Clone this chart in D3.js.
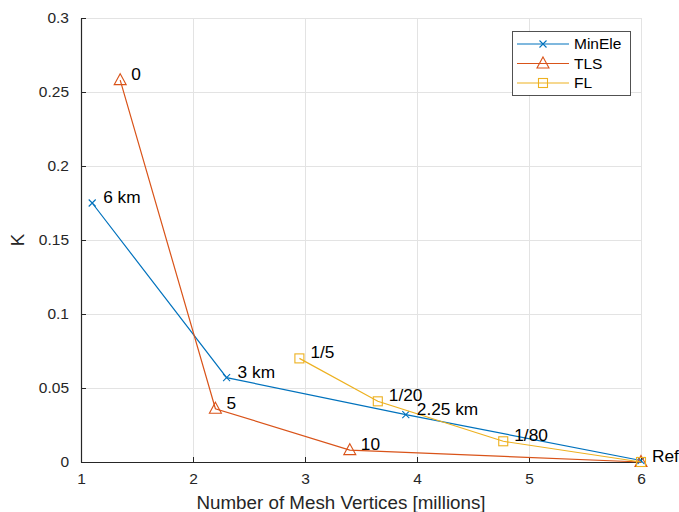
<!DOCTYPE html>
<html>
<head>
<meta charset="utf-8">
<script src="https://cdn.jsdelivr.net/npm/d3@7"></script>
<style>
  body { margin: 0; background: #fff; }
  svg { font-family: "Liberation Sans", Arial, sans-serif; }
</style>
</head>
<body>
<svg id="chart" width="679" height="512"></svg>
<script>
// Series: mesh vertex count (millions) vs. K, with a text label per point
const seriesNames = ["MinEle", "TLS", "FL"];
const minEleX = [1.1, 2.3, 3.9, 6.0];
const minEleY = [0.175, 0.057, 0.032, 0.001];
const minEleLabels = ["6 km", "3 km", "2.25 km", ""];
const tlsX = [1.35, 2.2, 3.4, 6.0];
const tlsY = [0.258, 0.036, 0.008, 0.0];
const tlsLabels = ["0", "5", "10", "Ref"];
const flX = [2.95, 3.65, 4.77, 6.0];
const flY = [0.070, 0.041, 0.014, 0.0];
const flLabels = ["1/5", "1/20", "1/80", ""];
const xTicks = [1, 2, 3, 4, 5, 6];
const yTicks = [0, 0.05, 0.1, 0.15, 0.2, 0.25, 0.3];

const colors = ["#0072BD", "#D95319", "#EDB120"];
const markers = ["cross", "triangle", "square"];

const series = [
  { name: seriesNames[0], xs: minEleX, ys: minEleY, labels: minEleLabels },
  { name: seriesNames[1], xs: tlsX, ys: tlsY, labels: tlsLabels },
  { name: seriesNames[2], xs: flX, ys: flY, labels: flLabels }
].map((s, i) => ({ ...s, color: colors[i], marker: markers[i],
  points: s.xs.map((x, j) => ({ x, y: s.ys[j], label: s.labels[j] })) }));

const svg = d3.select("#chart");
const plotL = 81, plotR = 641, plotT = 18, plotB = 462;
const x = d3.scaleLinear().domain([1, 6]).range([plotL, plotR]);
const y = d3.scaleLinear().domain([0, 0.3]).range([plotB, plotT]);
const axisColor = "#262626";

// grid
const grid = svg.append("g");
grid.selectAll("line.gx").data(xTicks).join("line")
  .attr("x1", d => x(d)).attr("x2", d => x(d)).attr("y1", plotT).attr("y2", plotB)
  .attr("stroke", "#e3e3e3").attr("stroke-width", 1).attr("shape-rendering", "crispEdges");
grid.selectAll("line.gy").data(yTicks).join("line")
  .attr("x1", plotL).attr("x2", plotR).attr("y1", d => y(d)).attr("y2", d => y(d))
  .attr("stroke", "#e3e3e3").attr("stroke-width", 1).attr("shape-rendering", "crispEdges");

// axes with inward ticks
const xAxis = d3.axisBottom(x).tickValues(xTicks).tickFormat(d3.format("d")).tickSizeInner(-5).tickSizeOuter(0).tickPadding(11);
const yAxis = d3.axisLeft(y).tickValues(yTicks).tickFormat(d => d === 0 ? "0" : String(d)).tickSizeInner(-5).tickSizeOuter(0).tickPadding(12);
const gx = svg.append("g").attr("transform", `translate(0,${plotB})`).call(xAxis);
const gy = svg.append("g").attr("transform", `translate(${plotL},0)`).call(yAxis);
[gx, gy].forEach(g => {
  g.select(".domain").attr("stroke", axisColor).attr("stroke-width", 1.2);
  g.selectAll(".tick line").attr("stroke", axisColor);
  g.selectAll(".tick text").attr("fill", axisColor).attr("font-size", 15.5)
    .attr("font-family", "Liberation Sans, Arial, sans-serif");
});
gx.selectAll(".tick text").attr("dy", "0.71em");

svg.append("text").attr("x", 341).attr("y", 509)
  .attr("text-anchor", "middle").attr("font-size", 18.8).attr("fill", axisColor)
  .text("Number of Mesh Vertices [millions]");
svg.append("text").attr("transform", `translate(24,${(plotT + plotB) / 2}) rotate(-90)`)
  .attr("text-anchor", "middle").attr("font-size", 18.8).attr("fill", axisColor)
  .text("K");

function drawMarker(g, type, color) {
  if (type === "cross") {
    g.append("path").attr("d", "M-3.5,-3.5L3.5,3.5M-3.5,3.5L3.5,-3.5")
      .attr("stroke", color).attr("stroke-width", 1.1).attr("fill", "none");
  } else if (type === "triangle") {
    g.append("path").attr("d", "M0,-6.5L6,4.5L-6,4.5Z")
      .attr("stroke", color).attr("stroke-width", 1.1).attr("fill", "none");
  } else {
    g.append("rect").attr("x", -4.5).attr("y", -4.5).attr("width", 9).attr("height", 9)
      .attr("stroke", color).attr("stroke-width", 1.1).attr("fill", "none");
  }
}

const line = d3.line().x(d => x(d.x)).y(d => y(d.y));
series.forEach(s => {
  const g = svg.append("g");
  g.append("path").datum(s.points).attr("d", line)
    .attr("fill", "none").attr("stroke", s.color).attr("stroke-width", 1.2);
  s.points.forEach(p => {
    const m = g.append("g").attr("transform", `translate(${x(p.x)},${y(p.y)})`);
    drawMarker(m, s.marker, s.color);
  });
});

// point labels
const labelG = svg.append("g");
series.forEach(s => {
  s.points.filter(p => p.label).forEach(p => {
    labelG.append("text").attr("x", x(p.x) + 11).attr("y", y(p.y) - 6)
      .attr("dy", "0.35em").attr("font-size", 17.3).attr("fill", "#000")
      .text(p.label);
  });
});

// legend
const lg = svg.append("g").attr("transform", "translate(512,31)");
lg.append("rect").attr("width", 118).attr("height", 64).attr("fill", "#fff")
  .attr("stroke", axisColor).attr("stroke-width", 0.8).attr("shape-rendering", "crispEdges");
series.forEach((s, i) => {
  const ly = 13 + i * 19.5;
  lg.append("line").attr("x1", 5).attr("x2", 57).attr("y1", ly).attr("y2", ly)
    .attr("stroke", s.color).attr("stroke-width", 1.2);
  const m = lg.append("g").attr("transform", `translate(31,${ly})`);
  drawMarker(m, s.marker, s.color);
  lg.append("text").attr("x", 62).attr("y", ly).attr("dy", "0.35em")
    .attr("font-size", 15.5).attr("fill", "#000").text(s.name);
});
</script>
</body>
</html>
